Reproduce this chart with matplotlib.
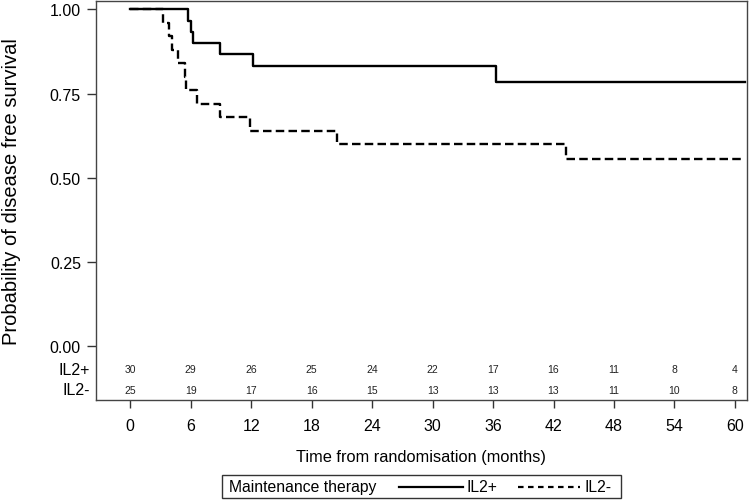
import matplotlib
matplotlib.use("Agg")
import matplotlib.pyplot as plt
from matplotlib.lines import Line2D
from matplotlib.patches import Rectangle

plt.rcParams['font.family'] = ['Liberation Sans', 'DejaVu Sans']

# Kaplan-Meier step data (event times in months, survival after each step)
il2_pos_times = [0, 5.7, 6.0, 6.2, 8.9, 12.2, 36.3, 61.0]
il2_pos_surv = [1.0, 0.967, 0.933, 0.900, 0.867, 0.833, 0.784, 0.784]

il2_neg_times = [0, 3.2, 3.8, 4.1, 4.7, 5.4, 5.5, 6.6, 8.9, 11.9, 20.5, 43.2, 61.0]
il2_neg_surv = [1.0, 0.96, 0.92, 0.88, 0.84, 0.80, 0.76, 0.72, 0.68, 0.64, 0.60, 0.554, 0.554]

# Numbers at risk
risk_times = [0, 6, 12, 18, 24, 30, 36, 42, 48, 54, 60]
risk_pos = [30, 29, 26, 25, 24, 22, 17, 16, 11, 8, 4]
risk_neg = [25, 19, 17, 16, 15, 13, 13, 13, 11, 10, 8]

y_ticks = [0.0, 0.25, 0.5, 0.75, 1.0]

fig = plt.figure(figsize=(7.5, 5.02), dpi=100)
ax = fig.add_axes([96 / 750, 1 - 401 / 502, (747 - 96) / 750, (401 - 2) / 502])

dash = (0, (3.6, 1.8))
ax.step(il2_pos_times, il2_pos_surv, where='post', color='black', lw=1.7)
ax.step(il2_neg_times, il2_neg_surv, where='post', color='black', lw=1.7, linestyle=dash)

ax.set_xlim(-3.4, 61.2)
ax.set_ylim(-0.161, 1.025)
ax.set_xticks(risk_times)
ax.set_yticks(y_ticks)
ax.set_yticklabels([f"{v:.2f}" for v in y_ticks])
ax.tick_params(axis='both', direction='out', length=6.5, width=1, labelsize=11.5,
               colors='#333333', labelcolor='black')
ax.tick_params(axis='y', pad=4.3)
ax.tick_params(axis='x', length=5.8, pad=7)
for sp in ax.spines.values():
    sp.set_color('#444444')
    sp.set_linewidth(1.0)

# at-risk table inside the plot box
row_y = {'IL2+': -0.069, 'IL2-': -0.131}
for t, a, b in zip(risk_times, risk_pos, risk_neg):
    ax.text(t, row_y['IL2+'], str(a), ha='center', va='center', fontsize=7.5, color='#222222')
    ax.text(t, row_y['IL2-'], str(b), ha='center', va='center', fontsize=7.5, color='#222222')
for lab, yv in row_y.items():
    ax.text(-0.009, yv, lab, transform=ax.get_yaxis_transform(), ha='right', va='center',
            fontsize=11.5)

fig.text(12 / 750, 1 - 192 / 502, "Probability of disease free survival", rotation=90,
         ha='center', va='center', fontsize=14.5)
fig.text(421 / 750, 1 - 458 / 502, "Time from randomisation (months)",
         ha='center', va='center', fontsize=11.8)

# legend box
fig.add_artist(Rectangle((222 / 750, 1 - 499 / 502), (621 - 222) / 750, 23 / 502,
                         transform=fig.transFigure, fill=False, edgecolor='#333333', lw=1))
ly = 1 - 487.5 / 502
fig.text(229 / 750, ly, "Maintenance therapy", ha='left', va='center', fontsize=11.3)
fig.add_artist(Line2D([399 / 750, 463 / 750], [ly, ly], transform=fig.transFigure,
                      color='black', lw=1.6))
fig.text(467 / 750, ly, "IL2+", ha='left', va='center', fontsize=11.3)
fig.add_artist(Line2D([518 / 750, 580 / 750], [ly, ly], transform=fig.transFigure,
                      color='black', lw=1.6, linestyle=(0, (2.5, 2.0))))
fig.text(585 / 750, ly, "IL2-", ha='left', va='center', fontsize=11.3)

fig.savefig("out.png", dpi=100)
